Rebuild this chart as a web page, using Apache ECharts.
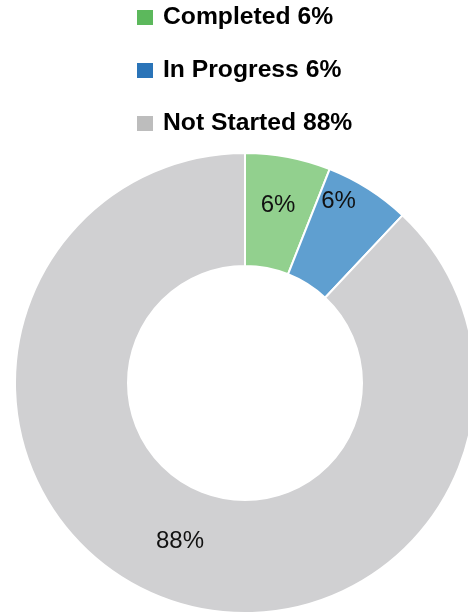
<!DOCTYPE html>
<html>
<head>
<meta charset="utf-8">
<script src="https://cdn.jsdelivr.net/npm/echarts@6/dist/echarts.min.js"></script>
<style>
html,body{margin:0;padding:0;background:#fff;}
#chart{width:468px;height:614px;}
</style>
</head>
<body>
<div id="chart"></div>
<script>
const categories = ['Completed', 'In Progress', 'Not Started'];
const values = [6, 6, 88];
const sliceColors = ['#92d08e', '#5f9fd0', '#d0d0d2'];
const legendColors = ['#5cb85c', '#2a74b8', '#bdbdbd'];
const labelShift = [[0, -4], [-1, -33], [0, -6]];

const total = values.reduce((a, b) => a + b, 0);
const chart = echarts.init(document.getElementById('chart'), null, {renderer: 'canvas'});
chart.setOption({
  animation: false,
  backgroundColor: '#fff',
  legend: {
    orient: 'vertical',
    left: 137,
    top: 5,
    padding: 0,
    itemWidth: 16,
    itemHeight: 15,
    itemGap: 28,
    icon: 'rect',
    textStyle: {
      fontFamily: 'Liberation Sans, Arial, sans-serif',
      fontSize: 24.7,
      fontWeight: 'bold',
      color: '#000',
      lineHeight: 24,
      padding: [0, 0, 0, 5]
    },
    formatter: function (name) {
      const i = categories.indexOf(name);
      return name + ' ' + Math.round(values[i] / total * 100) + '%';
    },
    data: categories.map((c, i) => ({
      name: c,
      itemStyle: {color: legendColors[i], borderWidth: 0}
    }))
  },
  series: [{
    type: 'pie',
    center: [245, 383],
    radius: [117, 230],
    startAngle: 90,
    clockwise: true,
    avoidLabelOverlap: false,
    itemStyle: {borderColor: '#fff', borderWidth: 2},
    label: {
      show: true,
      position: 'inside',
      fontFamily: 'Liberation Sans, Arial, sans-serif',
      fontSize: 24,
      color: '#111',
      formatter: function (p) { return Math.round(p.value / total * 100) + '%'; }
    },
    labelLine: {show: false},
    labelLayout: function (params) {
      const s = labelShift[params.dataIndex];
      return {dx: s[0], dy: s[1]};
    },
    emphasis: {disabled: true},
    data: categories.map((c, i) => ({
      name: c,
      value: values[i],
      itemStyle: {color: sliceColors[i]}
    }))
  }]
});
</script>
</body>
</html>
